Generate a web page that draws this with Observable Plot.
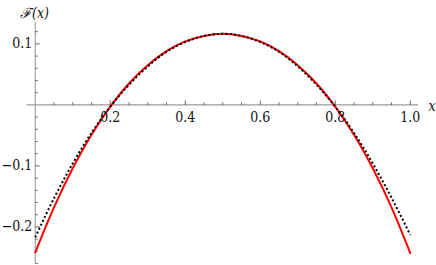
<!DOCTYPE html>
<html>
<head>
<meta charset="utf-8">
<script src="https://cdn.jsdelivr.net/npm/d3@7"></script>
<script src="https://cdn.jsdelivr.net/npm/@observablehq/plot@0.6"></script>
<style>
  html, body { margin: 0; padding: 0; background: #fff; }
  svg { display: block; }
</style>
</head>
<body>
<div id="chart"></div>
<script>
// Values
const xs = [0, 0.05, 0.1, 0.15, 0.2, 0.25, 0.3, 0.35, 0.4, 0.45, 0.5, 0.55, 0.6, 0.65, 0.7, 0.75, 0.8, 0.85, 0.9, 0.95, 1.0];
const redF = [-0.242, -0.168, -0.104, -0.049, -0.003, 0.035, 0.065, 0.088, 0.104, 0.113, 0.1165, 0.113, 0.104, 0.088, 0.065, 0.035, -0.003, -0.049, -0.104, -0.168, -0.243];
const dotF = [-0.217, -0.153, -0.096, -0.046, -0.003, 0.033, 0.063, 0.087, 0.103, 0.113, 0.1165, 0.113, 0.103, 0.087, 0.063, 0.033, -0.003, -0.046, -0.096, -0.152, -0.213];

const xMajor = [0.2, 0.4, 0.6, 0.8, 1.0];
const xMinor = [0.05, 0.1, 0.15, 0.25, 0.3, 0.35, 0.45, 0.5, 0.55, 0.65, 0.7, 0.75, 0.85, 0.9, 0.95];
const yMajor = [-0.2, -0.1, 0.1];
const yMinor = [-0.26, -0.24, -0.22, -0.18, -0.16, -0.14, -0.12, -0.08, -0.06, -0.04, -0.02, 0.02, 0.04, 0.06, 0.08, 0.12];

const yTitle = "ℱ(x)";
const xTitle = "x";

const redData = xs.map((x, i) => ({x, y: redF[i]}));
const dotData = xs.map((x, i) => ({x, y: dotF[i]}));

// custom tick symbols (length in px)
const upTick = len => ({draw(ctx) { ctx.moveTo(0, 0); ctx.lineTo(0, -len); }});
const rightTick = len => ({draw(ctx) { ctx.moveTo(0, 0); ctx.lineTo(len, 0); }});

const fmt = d3.format(".1f");
const font = "'DejaVu Serif Condensed', 'DejaVu Serif', serif";

const chart = Plot.plot({
  width: 436,
  height: 265,
  marginLeft: 26.5,
  marginRight: 18,
  marginTop: 22,
  marginBottom: 2,
  style: {background: "#fff"},
  x: {domain: [-0.022, 1.022], axis: null},
  y: {domain: [-0.26, 0.135], axis: null},
  marks: [
    Plot.ruleY([0], {stroke: "#9a9a9a", strokeWidth: 1.1}),
    Plot.ruleX([0], {stroke: "#9a9a9a", strokeWidth: 1.1}),
    Plot.dot(xMinor, {x: d => d, y: xMinor.map(() => 0), symbol: upTick(2.5), fill: "none", stroke: "#444", strokeWidth: 0.8}),
    Plot.dot(xMajor, {x: d => d, y: xMajor.map(() => 0), symbol: upTick(4.5), fill: "none", stroke: "#444", strokeWidth: 0.8}),
    Plot.dot(yMinor, {y: d => d, x: yMinor.map(() => 0), symbol: rightTick(2.5), fill: "none", stroke: "#444", strokeWidth: 0.8}),
    Plot.dot(yMajor, {y: d => d, x: yMajor.map(() => 0), symbol: rightTick(4.5), fill: "none", stroke: "#444", strokeWidth: 0.8}),
    Plot.text(xMajor, {x: d => d, y: xMajor.map(() => 0), text: d => fmt(d), dy: 13, fontSize: 14, fontFamily: font, fill: "#111"}),
    Plot.text(yMajor, {y: d => d, x: yMajor.map(() => 0), text: d => fmt(d), dx: -3, textAnchor: "end", fontSize: 14, fontFamily: font, fill: "#111"}),
    Plot.text([yTitle], {frameAnchor: "top-left", text: d => d, dx: -7, dy: -14.5, textAnchor: "start", fontSize: 14, fontFamily: font, fontStyle: "italic", fill: "#111"}),
    Plot.text([xTitle], {frameAnchor: "right", y: [0], text: d => d, dx: 10, dy: 2, textAnchor: "start", fontSize: 14, fontFamily: font, fontStyle: "italic", fill: "#111"}),
    Plot.line(redData, {x: "x", y: "y", stroke: "#ff0000", strokeWidth: 2, curve: "catmull-rom"}),
    Plot.line(dotData, {x: "x", y: "y", stroke: "#000", strokeWidth: 2, strokeDasharray: "2,2.3", strokeLinecap: "butt", curve: "catmull-rom"})
  ]
});
document.getElementById("chart").appendChild(chart);
</script>
</body>
</html>
